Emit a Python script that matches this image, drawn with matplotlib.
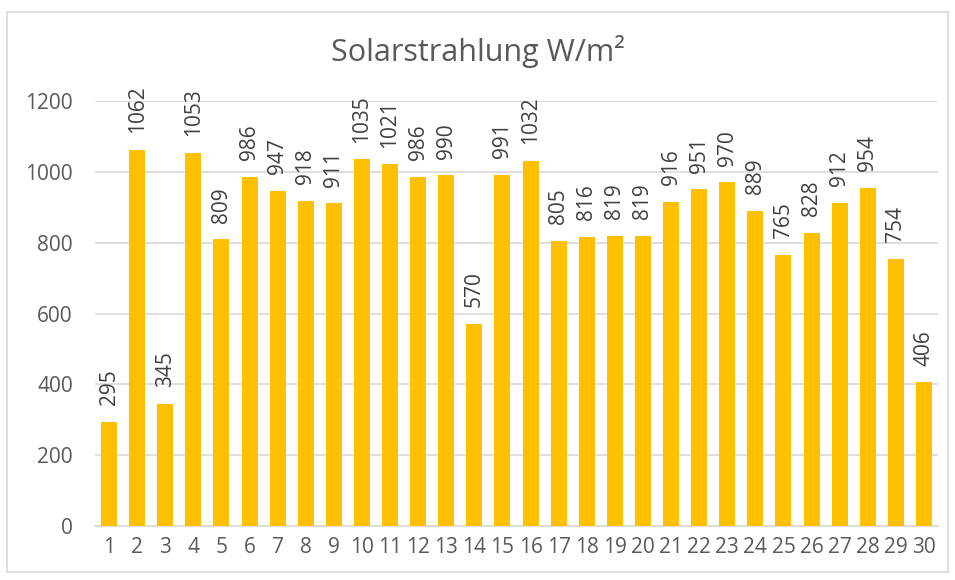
import matplotlib
matplotlib.use("Agg")
import matplotlib.pyplot as plt
from matplotlib.patches import Rectangle

days = [str(i) for i in range(1, 31)]
values = [295, 1062, 345, 1053, 809, 986, 947, 918, 911, 1035, 1021, 986, 990, 570,
          991, 1032, 805, 816, 819, 819, 916, 951, 970, 889, 765, 828, 912, 954, 754, 406]
yticks = [0, 200, 400, 600, 800, 1000, 1200]
title = "Solarstrahlung W/m²"

plt.rcParams['font.family'] = ['Open Sans', 'DejaVu Sans']
txt = '#595959'
W, H = 955, 580
fig = plt.figure(figsize=(W/100, H/100), dpi=100)
fig.patches.append(Rectangle((7/W, 8/H), (948-7)/W, (568-8)/H, transform=fig.transFigure,
                             fill=False, edgecolor='#D9D9D9', linewidth=1.2))
ax = fig.add_axes([95/W, 1-526/H, (938-95)/W, (526-101)/H])
x = list(range(len(days)))
ax.bar(x, values, width=0.57, color='#FFC000', zorder=3)
for xi, v in zip(x, values):
    ax.annotate(str(v), (xi, v), xytext=(0, 12), textcoords='offset points',
                rotation=90, ha='center', va='bottom', fontsize=15, color='#404040')
ax.set_xlim(-0.5, len(days) - 0.5)
ax.set_ylim(0, 1200)
ax.set_yticks(yticks)
ax.set_yticklabels([str(t) for t in yticks])
ax.set_xticks(x)
ax.set_xticklabels(days)
ax.tick_params(axis='both', length=0, labelsize=15, labelcolor=txt)
ax.tick_params(axis='y', pad=16)
ax.tick_params(axis='x', pad=8)
ax.grid(axis='y', color='#D9D9D9', linewidth=1.2, zorder=0)
for s in ['top', 'right', 'left']:
    ax.spines[s].set_visible(False)
ax.spines['bottom'].set_color('#D9D9D9')
ax.spines['bottom'].set_linewidth(1.2)
fig.text(0.5, 1-52/H, title, ha='center', va='center', fontsize=22, color=txt)
fig.savefig('out.png', dpi=100)
